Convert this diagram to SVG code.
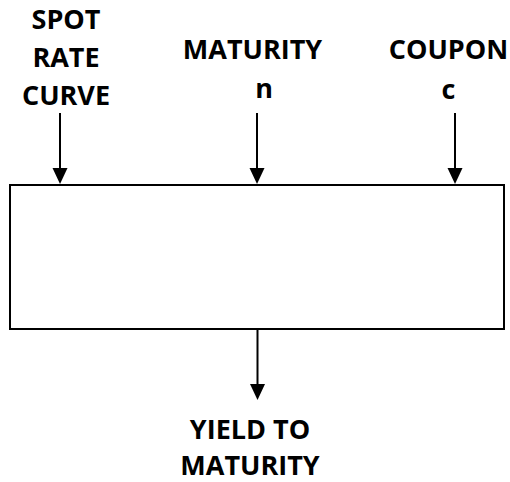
<svg xmlns="http://www.w3.org/2000/svg" width="510" height="482" viewBox="0 0 510 482">
  <style>
    .lbl { font-family: "Open Sans", "Liberation Sans", sans-serif; font-weight: 700; font-size: 27px; fill: #000; text-anchor: middle; }
    .box { fill: #fff; stroke: #000; stroke-width: 2; }
    .wire { stroke: #000; stroke-width: 2; fill: none; marker-end: url(#head); }
  </style>
  <defs>
    <marker id="head" markerUnits="userSpaceOnUse" markerWidth="16" markerHeight="16" viewBox="0 0 16 16" refX="8" refY="8" orient="auto">
      <path d="M0,0.5 L16,8 L0,15.5 Z" fill="#000"/>
    </marker>
  </defs>
  <rect width="510" height="482" fill="#fff"/>

  <!-- inputs -->
  <g id="spot-rate-curve">
    <text class="lbl" x="66" y="29">SPOT</text>
    <text class="lbl" x="66" y="67">RATE</text>
    <text class="lbl" x="66" y="105">CURVE</text>
  </g>
  <g id="maturity-n">
    <text class="lbl" x="252.5" y="59">MATURITY</text>
    <text class="lbl" x="264" y="98">n</text>
  </g>
  <g id="coupon-c">
    <text class="lbl" x="448.5" y="59">COUPON</text>
    <text class="lbl" x="448.5" y="99">c</text>
  </g>

  <!-- process block -->
  <g id="pricing-block">
    <rect class="box" x="10" y="185" width="494" height="144"/>
  </g>

  <!-- output -->
  <g id="yield-to-maturity">
    <text class="lbl" x="250" y="439">YIELD TO</text>
    <text class="lbl" x="250" y="475">MATURITY</text>
  </g>

  <g id="connectors">
    <line class="wire" x1="60" y1="113" x2="60" y2="176"/>
    <line class="wire" x1="257" y1="113" x2="257" y2="176"/>
    <line class="wire" x1="455" y1="113" x2="455" y2="176"/>
    <line class="wire" x1="257.5" y1="330" x2="257.5" y2="392"/>
  </g>
</svg>
